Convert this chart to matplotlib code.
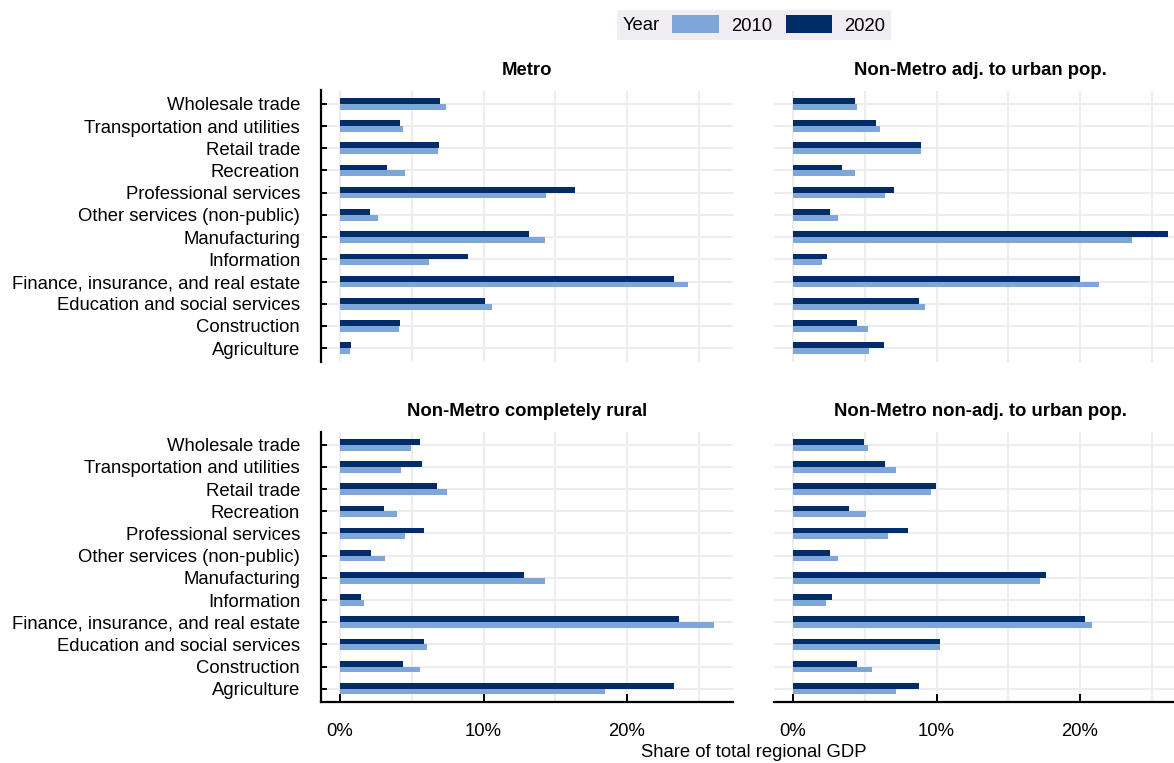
import matplotlib
matplotlib.use("Agg")
import matplotlib.pyplot as plt
import numpy as np
from matplotlib.patches import Patch
from matplotlib.offsetbox import HPacker

plt.rcParams['font.family'] = ['Liberation Sans', 'DejaVu Sans']

# ---- data (top-to-bottom order as displayed) ----
industries = ["Wholesale trade", "Transportation and utilities", "Retail trade",
              "Recreation", "Professional services", "Other services (non-public)",
              "Manufacturing", "Information", "Finance, insurance, and real estate",
              "Education and social services", "Construction", "Agriculture"]

panels = ["Metro", "Non-Metro adj. to urban pop.",
          "Non-Metro completely rural", "Non-Metro non-adj. to urban pop."]

metro_2010 = [7.36, 4.38, 6.80, 4.51, 14.37, 2.64, 14.30, 6.18, 24.24, 10.56, 4.10, 0.69]
metro_2020 = [6.94, 4.17, 6.88, 3.26, 16.39, 2.08, 13.19, 8.89, 23.26, 10.07, 4.17, 0.76]
adj_2010 = [4.45, 6.06, 8.91, 4.32, 6.40, 3.13, 23.60, 2.02, 21.30, 9.19, 5.22, 5.29]
adj_2020 = [4.32, 5.78, 8.91, 3.41, 7.03, 2.58, 26.10, 2.37, 19.98, 8.77, 4.45, 6.33]
rural_2010 = [4.94, 4.25, 7.45, 3.97, 4.52, 3.13, 14.27, 1.67, 26.03, 6.06, 5.57, 18.45]
rural_2020 = [5.57, 5.73, 6.75, 3.06, 5.85, 2.16, 12.80, 1.46, 23.60, 5.85, 4.38, 23.25]
nonadj_2010 = [5.22, 7.17, 9.61, 5.08, 6.61, 3.13, 17.19, 2.30, 20.81, 10.21, 5.50, 7.17]
nonadj_2020 = [4.94, 6.40, 9.95, 3.90, 8.00, 2.58, 17.60, 2.71, 20.32, 10.23, 4.45, 8.77]

years = ["2010", "2020"]
x_ticks = [0, 10, 20]
x_tick_labels = ["0%", "10%", "20%"]

series = [(metro_2010, metro_2020), (adj_2010, adj_2020),
          (rural_2010, rural_2020), (nonadj_2010, nonadj_2020)]

c2010 = "#7EA6D8"
c2020 = "#002C69"
grid_c = "#EDEDED"

W, H = 1174, 763
fig = plt.figure(figsize=(W / 100, H / 100), dpi=100)

axw = 412 / W
lefts = [321.3 / W, 774.3 / W]
tops = [(1 - 361.5 / H, 271 / H), (1 - 702 / H, 270.5 / H)]

xmax = 26.1
xlim = (-0.05 * xmax, xmax * 1.05)
bar_h = 0.26
ypos = np.arange(len(industries))

for i, (name, (v10, v20)) in enumerate(zip(panels, series)):
    r, c = divmod(i, 2)
    b, h = tops[r]
    ax = fig.add_axes([lefts[c], b, axw, h])
    ax.set_axisbelow(True)
    ax.barh(ypos - bar_h / 2, v20, height=bar_h, color=c2020, zorder=3)
    ax.barh(ypos + bar_h / 2, v10, height=bar_h, color=c2010, zorder=3)
    ax.set_xlim(*xlim)
    ax.set_ylim(len(industries) - 0.4, -0.6)
    ax.set_yticks(ypos)
    ax.set_xticks(x_ticks)
    ax.set_xticks([5, 15, 25], minor=True)
    ax.grid(True, which='both', axis='x', color=grid_c, lw=1.5)
    ax.grid(True, which='major', axis='y', color=grid_c, lw=1.5)
    ax.tick_params(which='minor', length=0)
    for s in ax.spines.values():
        s.set_visible(False)
    if c == 0:
        ax.spines['left'].set_visible(True)
        ax.spines['left'].set_linewidth(1.6)
        ax.spines['left'].set_color('black')
        ax.set_yticklabels(industries)
        ax.tick_params(axis='y', direction='in', length=4, width=1.4,
                       color='black', pad=15.3, labelsize=13.3, labelcolor='black')
    else:
        ax.set_yticklabels([])
        ax.tick_params(axis='y', length=0)
    if r == 1:
        ax.spines['bottom'].set_visible(True)
        ax.spines['bottom'].set_linewidth(1.6)
        ax.spines['bottom'].set_color('black')
        ax.set_xticklabels(x_tick_labels)
        ax.tick_params(axis='x', which='major', direction='in', length=6, width=1.4,
                       color='black', pad=15, labelsize=13.3, labelcolor='black')
    else:
        ax.set_xticklabels([])
        ax.tick_params(axis='x', which='major', length=0)
    ax.set_title(name, fontsize=13.3, fontweight='bold', pad=11)

# x-axis label centred across the panel area
fig.text((321.3 + 774.3 + 412) / 2 / W, 1 - 757 / H, "Share of total regional GDP",
         ha='center', va='baseline', fontsize=13.3)

# legend with title to the left
handles = [Patch(facecolor=c2010, edgecolor='none'), Patch(facecolor=c2020, edgecolor='none')]
leg = fig.legend(handles, years, title="Year", ncol=2, loc='center',
                 bbox_to_anchor=(754 / W, 1 - 25 / H), frameon=True,
                 fontsize=13.3, title_fontsize=13.3,
                 handlelength=2.5, handleheight=1.1, handletextpad=0.67,
                 columnspacing=0.75, borderpad=0.3, borderaxespad=0)
frame = leg.get_frame()
frame.set_facecolor("#F0EEF2")
frame.set_edgecolor("none")
frame.set_alpha(1)
frame.set_boxstyle("square", pad=0)
try:
    fs = leg._fontsize
    newbox = HPacker(pad=leg.borderpad * fs, sep=0.7 * fs, align='center',
                     children=[leg._legend_title_box, leg._legend_handle_box])
    newbox.set_figure(fig)
    newbox.axes = leg.axes
    leg._legend_box = newbox
    leg._set_loc(leg._loc)
except Exception:
    pass

fig.savefig("out.png", dpi=100)
